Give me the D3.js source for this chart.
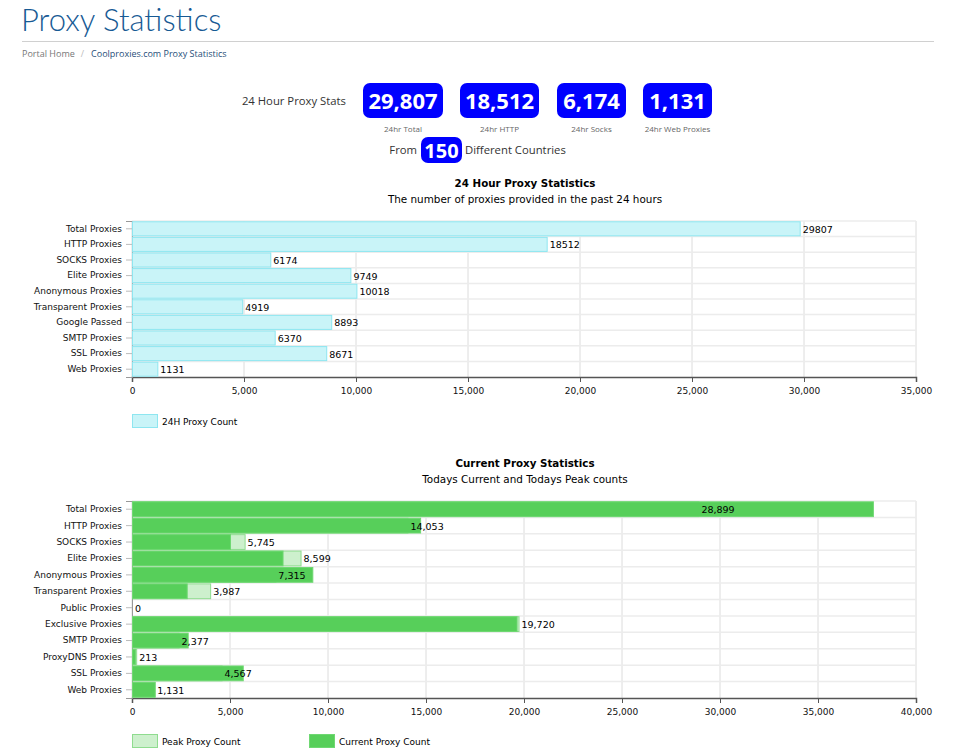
<!DOCTYPE html>
<html>
<head>
<meta charset="utf-8">
<script src="https://cdn.jsdelivr.net/npm/d3@7"></script>
<style>
  body { margin: 0; background: #fff; }
  svg { display: block; }
</style>
</head>
<body>
<svg id="page" width="956" height="756"></svg>
<script>
// Données du haut de page
const statValues = [29807, 18512, 6174, 1131];
const statCaptions = ["24hr Total", "24hr HTTP", "24hr Socks", "24hr Web Proxies"];
const countryCount = 150;

// Graphique 1 : 24 heures
const dayCategories = ["Total Proxies", "HTTP Proxies", "SOCKS Proxies", "Elite Proxies",
  "Anonymous Proxies", "Transparent Proxies", "Google Passed", "SMTP Proxies",
  "SSL Proxies", "Web Proxies"];
const dayCounts = [29807, 18512, 6174, 9749, 10018, 4919, 8893, 6370, 8671, 1131];
const dayTicks = [0, 5000, 10000, 15000, 20000, 25000, 30000, 35000];

// Graphique 2 : actuel et pic
const currentCategories = ["Total Proxies", "HTTP Proxies", "SOCKS Proxies", "Elite Proxies",
  "Anonymous Proxies", "Transparent Proxies", "Public Proxies", "Exclusive Proxies",
  "SMTP Proxies", "ProxyDNS Proxies", "SSL Proxies", "Web Proxies"];
const peakCounts = [28899, 14053, 5745, 8599, 7315, 3987, 0, 19720, 2377, 213, 4567, 1131];
const currentCounts = [37800, 14700, 5000, 7680, 9200, 2790, 0, 19620, 2840, 150, 5650, 1160];
const currentTicks = [0, 5000, 10000, 15000, 20000, 25000, 30000, 35000, 40000];

const svg = d3.select("#page");
const chartFont = "'DejaVu Sans', Verdana, sans-serif";

// En-tête
svg.append("text")
  .attr("x", 21).attr("y", 31)
  .style("font-family", "Lato, 'Open Sans', sans-serif")
  .style("font-weight", 300)
  .style("font-size", "31px")
  .style("fill", "#175a94")
  .text("Proxy Statistics");

svg.append("line")
  .attr("x1", 22).attr("x2", 934).attr("y1", 41.5).attr("y2", 41.5)
  .style("stroke", "#d0d0d0");

const crumbs = svg.append("text")
  .attr("x", 22).attr("y", 57)
  .style("font-family", "'Open Sans', sans-serif")
  .style("font-size", "9px");
crumbs.append("tspan").style("fill", "#777").text("Portal Home");
crumbs.append("tspan").attr("dx", 6).style("fill", "#bbb").text("/");
crumbs.append("tspan").attr("dx", 7).style("fill", "#1f4e79").text("Coolproxies.com Proxy Statistics");

svg.append("text")
  .attr("x", 346).attr("y", 105)
  .attr("text-anchor", "end")
  .style("font-family", "'Open Sans', sans-serif")
  .style("font-size", "11.3px")
  .style("fill", "#333")
  .text("24 Hour Proxy Stats");

// Pastilles bleues
const badgeX = [363, 460, 557, 643];
const badgeW = [80, 79, 69, 69];
const badges = svg.selectAll(".badge")
  .data(statValues)
  .enter().append("g")
  .attr("class", "badge")
  .attr("transform", (d, i) => "translate(" + badgeX[i] + ",83)");

badges.append("rect")
  .attr("width", (d, i) => badgeW[i])
  .attr("height", 35)
  .attr("rx", 7)
  .style("fill", "#0000ff");

badges.append("text")
  .attr("x", (d, i) => badgeW[i] / 2)
  .attr("y", 26)
  .attr("text-anchor", "middle")
  .style("font-family", "'Open Sans', sans-serif")
  .style("font-weight", 700)
  .style("font-size", "22px")
  .style("fill", "#fff")
  .text(d => d3.format(",")(d));

badges.append("text")
  .attr("x", (d, i) => badgeW[i] / 2)
  .attr("y", 49)
  .attr("text-anchor", "middle")
  .style("font-family", "'Open Sans', sans-serif")
  .style("font-size", "8px")
  .style("fill", "#666")
  .text((d, i) => statCaptions[i]);

svg.append("text")
  .attr("x", 417).attr("y", 154)
  .attr("text-anchor", "end")
  .style("font-family", "'Open Sans', sans-serif")
  .style("font-size", "11.3px")
  .style("fill", "#333")
  .text("From");

svg.append("rect")
  .attr("x", 421).attr("y", 137).attr("width", 41).attr("height", 26).attr("rx", 7)
  .style("fill", "#0000ff");
svg.append("text")
  .attr("x", 441.5).attr("y", 158)
  .attr("text-anchor", "middle")
  .style("font-family", "'Open Sans', sans-serif")
  .style("font-weight", 700)
  .style("font-size", "20px")
  .style("fill", "#fff")
  .text(countryCount);
svg.append("text")
  .attr("x", 465).attr("y", 154)
  .style("font-family", "'Open Sans', sans-serif")
  .style("font-size", "11.3px")
  .style("fill", "#333")
  .text("Different Countries");

// Fonction commune pour un graphique à barres horizontales
function drawFrame(opts) {
  const g = svg.append("g");
  const x = d3.scaleLinear().domain(opts.domain).range([132, 916]);
  const y = d3.scaleBand().domain(opts.categories).range([opts.top, opts.bottom]).paddingInner(0.1).paddingOuter(0.05);
  const step = y.step();

  // Titres
  g.append("text")
    .attr("x", 525).attr("y", opts.titleY)
    .attr("text-anchor", "middle")
    .style("font-family", chartFont)
    .style("font-weight", "bold")
    .style("font-size", "10.3px")
    .text(opts.title);
  g.append("text")
    .attr("x", 525).attr("y", opts.titleY + 16)
    .attr("text-anchor", "middle")
    .style("font-family", chartFont)
    .style("font-size", "10.4px")
    .text(opts.subtitle);

  // Grille verticale
  g.selectAll(".vgrid")
    .data(opts.ticks)
    .enter().append("line")
    .attr("x1", d => x(d)).attr("x2", d => x(d))
    .attr("y1", opts.top).attr("y2", opts.bottom)
    .style("stroke", "#dcdcdc");

  // Séparateurs horizontaux
  g.selectAll(".hgrid")
    .data(opts.categories)
    .enter().append("line")
    .attr("x1", 132).attr("x2", 916)
    .attr("y1", d => y(d) - step * 0.05).attr("y2", d => y(d) - step * 0.05)
    .style("stroke", "#ececec")
    .style("stroke-width", 1.5);

  // Axe X
  const xAxis = g.append("g")
    .attr("transform", "translate(0," + opts.bottom + ")")
    .call(d3.axisBottom(x).tickValues(opts.ticks).tickFormat(d3.format(",")).tickSize(5).tickPadding(6));
  xAxis.select(".domain").style("stroke", "#555").style("stroke-width", 1.5);
  xAxis.selectAll(".tick line").style("stroke", "#555");
  xAxis.selectAll("text")
    .style("font-family", chartFont)
    .style("font-size", "9px")
    .style("fill", "#111");

  // Axe Y
  const yAxis = g.append("g")
    .attr("transform", "translate(132,0)")
    .call(d3.axisLeft(y).tickSize(6).tickPadding(4));
  yAxis.select(".domain").style("stroke", "#999");
  yAxis.selectAll(".tick line").style("stroke", "#bbb");
  yAxis.selectAll("text")
    .style("font-family", chartFont)
    .style("font-size", "9px")
    .style("fill", "#111");

  return { g: g, x: x, y: y };
}

// Graphique 1
const c1 = drawFrame({
  domain: [0, 35000], categories: dayCategories, ticks: dayTicks,
  top: 221, bottom: 377, titleY: 187,
  title: "24 Hour Proxy Statistics",
  subtitle: "The number of proxies provided in the past 24 hours"
});

c1.g.selectAll(".bar")
  .data(dayCounts)
  .enter().append("rect")
  .attr("class", "bar")
  .attr("x", c1.x(0) + 0.5)
  .attr("y", (d, i) => c1.y(dayCategories[i]))
  .attr("width", d => c1.x(d) - c1.x(0))
  .attr("height", c1.y.bandwidth())
  .style("fill", "#c9f4f8")
  .style("stroke", "#8ee6f0");

c1.g.selectAll(".val")
  .data(dayCounts)
  .enter().append("text")
  .attr("x", d => c1.x(d) + 3)
  .attr("y", (d, i) => c1.y(dayCategories[i]) + c1.y.bandwidth() / 2 + 4)
  .style("font-family", chartFont)
  .style("font-size", "9.5px")
  .text(d => d);

// Légende 1
c1.g.append("rect")
  .attr("x", 132.5).attr("y", 414.5).attr("width", 25).attr("height", 13)
  .style("fill", "#c9f4f8").style("stroke", "#8ee6f0");
c1.g.append("text")
  .attr("x", 162).attr("y", 424.5)
  .style("font-family", chartFont)
  .style("font-size", "9px")
  .text("24H Proxy Count");

// Graphique 2
const c2 = drawFrame({
  domain: [0, 40000], categories: currentCategories, ticks: currentTicks,
  top: 501, bottom: 698, titleY: 467,
  title: "Current Proxy Statistics",
  subtitle: "Todays Current and Todays Peak counts"
});

c2.g.selectAll(".peak")
  .data(peakCounts)
  .enter().append("rect")
  .attr("class", "peak")
  .attr("x", c2.x(0) + 0.5)
  .attr("y", (d, i) => c2.y(currentCategories[i]))
  .attr("width", d => c2.x(d) - c2.x(0))
  .attr("height", c2.y.bandwidth())
  .style("fill", "#cdf0cd")
  .style("stroke", "#8fdc8f");

c2.g.selectAll(".current")
  .data(currentCounts)
  .enter().append("rect")
  .attr("class", "current")
  .attr("x", c2.x(0) + 0.5)
  .attr("y", (d, i) => c2.y(currentCategories[i]))
  .attr("width", d => c2.x(d) - c2.x(0))
  .attr("height", c2.y.bandwidth())
  .style("fill", "#57cf5a")
  .style("stroke", "#6fd872");

c2.g.selectAll(".val")
  .data(peakCounts)
  .enter().append("text")
  .attr("x", d => c2.x(d) + 3)
  .attr("y", (d, i) => c2.y(currentCategories[i]) + c2.y.bandwidth() / 2 + 4)
  .style("font-family", chartFont)
  .style("font-size", "9.5px")
  .text(d => d3.format(",")(d));

// Légende 2
const legend2 = [
  { label: "Peak Proxy Count", fill: "#cdf0cd", stroke: "#8fdc8f", x: 132 },
  { label: "Current Proxy Count", fill: "#57cf5a", stroke: "#6fd872", x: 309 }
];
const lg = c2.g.selectAll(".legend")
  .data(legend2)
  .enter().append("g")
  .attr("transform", d => "translate(" + d.x + ",734)");
lg.append("rect")
  .attr("x", 0.5).attr("y", 0.5).attr("width", 25).attr("height", 13)
  .style("fill", d => d.fill).style("stroke", d => d.stroke);
lg.append("text")
  .attr("x", 30).attr("y", 10.5)
  .style("font-family", chartFont)
  .style("font-size", "9px")
  .text(d => d.label);
</script>
</body>
</html>
